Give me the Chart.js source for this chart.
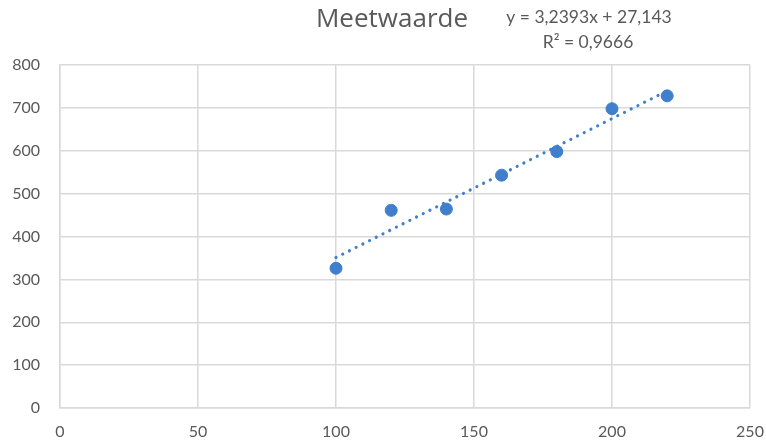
<!DOCTYPE html>
<html>
<head>
<meta charset="utf-8">
<script src="https://cdn.jsdelivr.net/npm/chart.js@4/dist/chart.umd.min.js"></script>
<style>
  html, body { margin: 0; padding: 0; background: #ffffff; }
  #wrap { width: 766px; height: 443px; position: relative; }
</style>
</head>
<body>
<div id="wrap"><canvas id="c" width="766" height="443"></canvas></div>
<script>
// Measured values
const xValues = [100, 120, 140, 160, 180, 200, 220];
const yValues = [326, 461, 464, 543, 598, 698, 728];

// Linear trendline as reported in the equation label
const trendSlope = 3.2393;
const trendIntercept = 27.143;
const trendRange = [100, 220];
const equationText = 'y = 3,2393x + 27,143';
const r2Text = 'R² = 0,9666';
const titleText = 'Meetwaarde';

const xTicks = [0, 50, 100, 150, 200, 250];
const yTicks = [0, 100, 200, 300, 400, 500, 600, 700, 800];

const pointColor = '#3F7FCC';
const gridColor = '#D9D9D9';
const textColor = '#595959';
const fontFamily = 'Lato, "Open Sans", "Liberation Sans", sans-serif';
const titleFamily = '"Open Sans", Lato, sans-serif';

const points = xValues.map((x, i) => ({ x: x, y: yValues[i] }));
const trendPoints = trendRange.map(x => ({ x: x, y: trendSlope * x + trendIntercept }));

// Title and trendline equation drawn above the plot area
const headerPlugin = {
  id: 'header',
  afterDraw(chart) {
    const ctx = chart.ctx;
    ctx.save();
    ctx.fillStyle = textColor;
    ctx.textBaseline = 'middle';
    ctx.textAlign = 'center';
    ctx.font = '26px ' + titleFamily;
    ctx.fillText(titleText, 392, 20);
    ctx.font = '17.5px ' + fontFamily;
    ctx.fillText(equationText, 589, 17);
    ctx.fillText(r2Text, 588, 42);
    ctx.restore();
  }
};

new Chart(document.getElementById('c'), {
  type: 'scatter',
  data: {
    datasets: [
      {
        label: 'Meetwaarde',
        data: points,
        backgroundColor: pointColor,
        borderColor: pointColor,
        pointRadius: 6,
        pointHoverRadius: 6,
        order: 2
      },
      {
        type: 'line',
        label: 'Trendlijn',
        data: trendPoints,
        borderColor: pointColor,
        borderWidth: 3.2,
        borderDash: [0.01, 7.5],
        borderCapStyle: 'round',
        pointRadius: 0,
        fill: false,
        order: 1
      }
    ]
  },
  options: {
    responsive: false,
    animation: false,
    layout: { padding: { left: 0, right: 16, top: 65, bottom: 0 } },
    plugins: {
      legend: { display: false },
      tooltip: { enabled: false },
      title: { display: false }
    },
    scales: {
      x: {
        type: 'linear',
        min: xTicks[0],
        max: xTicks[xTicks.length - 1],
        afterBuildTicks(scale) { scale.ticks = xTicks.map(v => ({ value: v })); },
        afterFit(scale) {
          scale.height = 35;
          scale.paddingLeft = 0;
          scale.paddingRight = 0;
        },
        ticks: {
          color: textColor,
          font: { family: fontFamily, size: 16 },
          padding: 14,
          maxRotation: 0
        },
        grid: { color: gridColor, lineWidth: 1.5, drawTicks: false },
        border: { color: gridColor, width: 1.5 }
      },
      y: {
        type: 'linear',
        min: yTicks[0],
        max: yTicks[yTicks.length - 1],
        afterBuildTicks(scale) { scale.ticks = yTicks.map(v => ({ value: v })); },
        afterFit(scale) {
          scale.width = 60;
          scale.paddingTop = 0;
          scale.paddingBottom = 0;
        },
        ticks: {
          color: textColor,
          font: { family: fontFamily, size: 16 },
          padding: 20
        },
        grid: { color: gridColor, lineWidth: 1.5, drawTicks: false },
        border: { color: gridColor, width: 1.5 }
      }
    }
  },
  plugins: [headerPlugin]
});
</script>
</body>
</html>
